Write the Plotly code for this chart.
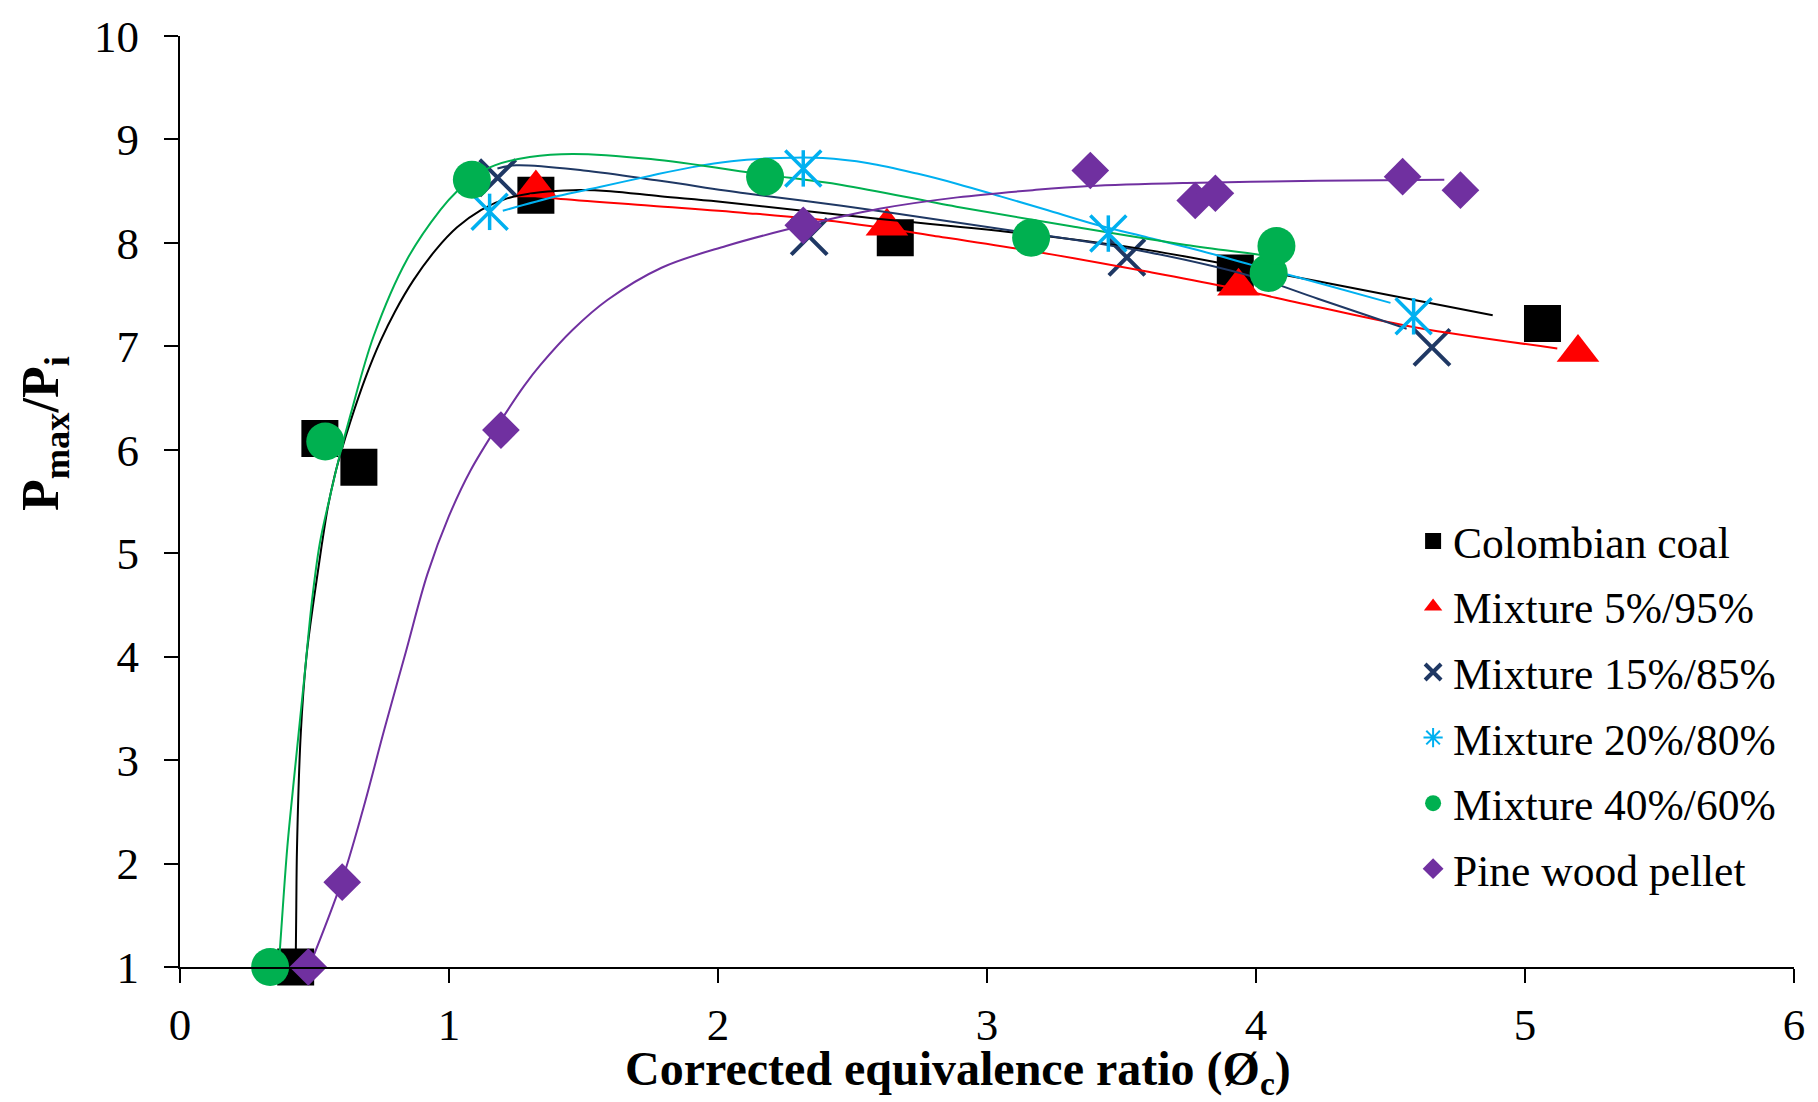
import plotly.graph_objects as go

# ---------------- data ----------------
series_names = ["Colombian coal", "Mixture 5%/95%", "Mixture 15%/85%",
                "Mixture 20%/80%", "Mixture 40%/60%", "Pine wood pellet"]

coal_x = [0.43, 0.52, 0.665, 1.323, 2.659, 3.923, 5.065]
coal_y = [1.00, 6.11, 5.83, 8.46, 8.05, 7.71, 7.22]

m5_x = [1.323, 2.628, 3.935, 5.197]
m5_y = [8.53, 8.16, 7.58, 6.94]

m15_x = [1.181, 2.339, 3.520, 4.654]
m15_y = [8.63, 8.06, 7.86, 6.99]

m20_x = [1.151, 2.317, 3.451, 4.586]
m20_y = [8.30, 8.72, 8.09, 7.29]

m40_x = [0.335, 0.540, 1.085, 2.175, 3.164, 4.047, 4.076]
m40_y = [1.00, 6.08, 8.61, 8.64, 8.05, 7.71, 7.97]

pine_x = [0.477, 0.603, 1.193, 2.317, 3.384, 3.774, 3.849, 4.545, 4.760]
pine_y = [1.00, 1.82, 6.19, 8.17, 8.70, 8.41, 8.48, 8.64, 8.51]

# trend curves
coal_fit_x = [0.430, 0.432, 0.435, 0.449, 0.470, 0.499, 0.527, 0.550, 0.575, 0.600,
              0.633, 0.690, 0.745, 0.800, 0.868, 0.950, 1.030, 1.120, 1.216, 1.339,
              1.463, 1.600, 1.785, 2.000, 2.460, 3.170, 3.600, 3.980, 4.230, 4.880]
coal_fit_y = [1.00, 1.50, 2.16, 3.26, 4.00, 4.58, 5.08, 5.45, 5.75, 5.99,
              6.27, 6.70, 7.05, 7.34, 7.64, 7.93, 8.15, 8.32, 8.43, 8.49,
              8.51, 8.50, 8.45, 8.40, 8.27, 8.08, 7.93, 7.75, 7.63, 7.30]

m5_fit_x = [1.30, 1.40, 1.75, 2.10, 2.46, 2.80, 3.17, 3.60, 3.88, 4.23, 4.60, 5.12]
m5_fit_y = [8.46, 8.43, 8.36, 8.29, 8.20, 8.07, 7.92, 7.72, 7.58, 7.38, 7.18, 6.98]

m15_fit_x = [1.18, 1.25, 1.50, 1.785, 2.10, 2.46, 2.80, 3.17, 3.60, 3.98, 4.23, 4.56]
m15_fit_y = [8.72, 8.75, 8.70, 8.60, 8.48, 8.36, 8.23, 8.09, 7.91, 7.68, 7.46, 7.17]

m20_fit_x = [1.20, 1.40, 1.56, 1.75, 1.90, 2.05, 2.23, 2.39, 2.56, 2.74, 2.89, 3.05,
             3.22, 3.40, 3.60, 3.80, 3.98, 4.25, 4.50]
m20_fit_y = [8.31, 8.45, 8.54, 8.65, 8.73, 8.79, 8.82, 8.82, 8.77, 8.67, 8.57, 8.45,
             8.32, 8.18, 8.05, 7.92, 7.79, 7.60, 7.42]

m40_fit_x = [0.366, 0.371, 0.399, 0.427, 0.463, 0.491, 0.520, 0.555, 0.596, 0.633,
             0.720, 0.844, 0.968, 1.030, 1.100, 1.170, 1.300, 1.460, 1.750, 2.175,
             2.460, 2.886, 3.313, 3.740, 4.000, 4.050]
m40_fit_y = [1.00, 1.16, 2.16, 2.90, 3.82, 4.55, 5.10, 5.52, 5.97, 6.33,
             7.10, 7.84, 8.32, 8.50, 8.65, 8.75, 8.83, 8.86, 8.81, 8.66,
             8.56, 8.35, 8.16, 7.98, 7.89, 7.87]

pine_fit_x = [0.48, 0.60, 0.68, 0.76, 0.84, 0.92, 1.00, 1.08, 1.19, 1.28, 1.34,
              1.46, 1.59, 1.79, 2.03, 2.32, 2.60, 2.89, 3.17, 3.38, 3.74, 3.98,
              4.23, 4.70]
pine_fit_y = [1.00, 1.82, 2.52, 3.30, 4.05, 4.80, 5.36, 5.80, 6.27, 6.62, 6.82,
              7.16, 7.45, 7.76, 7.97, 8.17, 8.33, 8.44, 8.51, 8.55, 8.58, 8.59,
              8.60, 8.61]

x_ticks = [0, 1, 2, 3, 4, 5, 6]
y_ticks = [1, 2, 3, 4, 5, 6, 7, 8, 9, 10]

# ---------------- styles ----------------
C_BLACK = "#000000"
C_RED = "#FF0000"
C_NAVY = "#1F3864"
C_LBLUE = "#00B0F0"
C_GREEN = "#00B050"
C_PURPLE = "#7030A0"
FONT = "Liberation Serif, Times New Roman, serif"

fig = go.Figure()

def markers(x, y, name, symbol, color, size, rank, show=True, lw=0):
    mk = dict(symbol=symbol, size=size, color=color)
    if lw:
        mk["line"] = dict(color=color, width=lw)
    else:
        mk["line"] = dict(width=0)
    fig.add_trace(go.Scatter(x=x, y=y, mode="markers", name=name, marker=mk,
                             legendgroup=name, showlegend=show, legendrank=rank,
                             cliponaxis=False))

def curve(x, y, color):
    fig.add_trace(go.Scatter(x=x, y=y, mode="lines", showlegend=False,
                             line=dict(color=color, width=2, shape="spline",
                                       smoothing=1.0),
                             hoverinfo="skip"))

markers(coal_x, coal_y, series_names[0], "square", C_BLACK, 37, 1)
markers(m5_x, m5_y, series_names[1], "triangle-up", C_RED, 37, 2)
markers(m15_x, m15_y, series_names[2], "x-thin-open", C_NAVY, 36, 3, lw=4)

curve(coal_fit_x, coal_fit_y, C_BLACK)
curve(m5_fit_x, m5_fit_y, C_RED)
curve(m15_fit_x, m15_fit_y, C_NAVY)
curve(m20_fit_x, m20_fit_y, C_LBLUE)
curve(m40_fit_x, m40_fit_y, C_GREEN)
curve(pine_fit_x, pine_fit_y, C_PURPLE)

# asterisk = X + vertical bar
markers(m20_x, m20_y, series_names[3], "x-thin-open", C_LBLUE, 36, 4, show=False, lw=3.5)
markers(m20_x, m20_y, series_names[3], "line-ns-open", C_LBLUE, 26, 4, show=False, lw=3.5)
fig.add_trace(go.Scatter(x=[None], y=[None], mode="markers", name=series_names[3],
                         legendgroup=series_names[3],
                         marker=dict(symbol="asterisk-open", size=16, color=C_LBLUE,
                                     line=dict(color=C_LBLUE, width=2)),
                         legendrank=4))
markers(m40_x, m40_y, series_names[4], "circle", C_GREEN, 38, 5)
markers(pine_x, pine_y, series_names[5], "diamond", C_PURPLE, 29, 6)

axis_common = dict(showline=True, linecolor="black", linewidth=2, ticks="outside",
                   ticklen=14, tickwidth=2, tickcolor="black", showgrid=False,
                   zeroline=False, tickfont=dict(family=FONT, size=45, color="black"))

fig.update_xaxes(range=[0, 6], tickvals=x_ticks, ticktext=[str(v) for v in x_ticks],
                 ticklabelstandoff=3, **axis_common)
fig.update_yaxes(range=[1, 10], tickvals=y_ticks, ticktext=[str(v) for v in y_ticks],
                 ticklabelstandoff=16, **axis_common)

fig.add_annotation(text="<b>Corrected equivalence ratio (Ø<sub>c</sub>)</b>",
                   xref="paper", yref="paper", x=0.482, y=-0.113,
                   xanchor="center", yanchor="middle", showarrow=False,
                   font=dict(family=FONT, size=48, color="black"))
fig.add_annotation(text="<b>P<sub>max</sub>/P<sub>i</sub></b>",
                   xref="paper", yref="paper", x=-0.084, y=0.573,
                   xanchor="center", yanchor="middle", showarrow=False, textangle=-90,
                   font=dict(family=FONT, size=52, color="black"))

fig.update_layout(
    width=1818, height=1102,
    margin=dict(l=180, r=24, t=28, b=135),
    plot_bgcolor="white", paper_bgcolor="white",
    font=dict(family=FONT, color="black"),
    legend=dict(x=0.764, y=0.495, xanchor="left", yanchor="top",
                font=dict(family=FONT, size=43.5, color="black"),
                bgcolor="rgba(0,0,0,0)", itemsizing="trace", tracegroupgap=6),
)

fig.write_html("out.html")
